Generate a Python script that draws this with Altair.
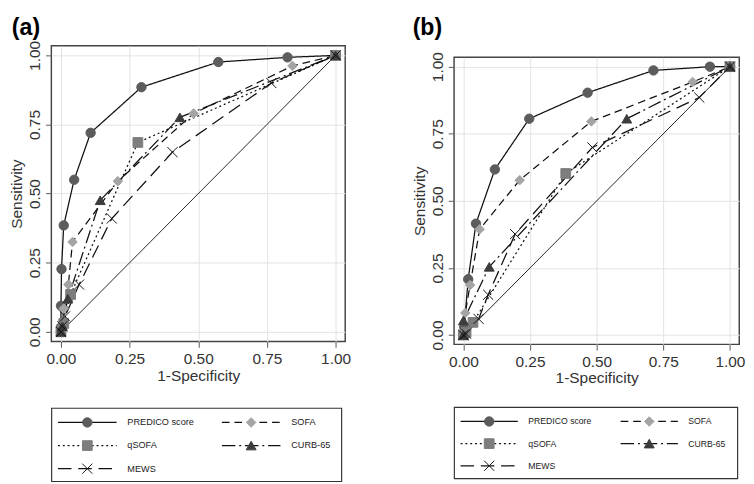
import altair as alt
import pandas as pd

series = ["PREDICO score", "SOFA", "qSOFA", "CURB-65", "MEWS"]

# ---- Panel (a) ROC points (1-Specificity, Sensitivity)
a_predico_x = [0.0, 0.0, 0.0, 0.002, 0.01, 0.048, 0.108, 0.293, 0.573, 0.825, 1.0]
a_predico_y = [0.0, 0.017, 0.094, 0.227, 0.385, 0.55, 0.72, 0.885, 0.976, 0.993, 1.0]
a_sofa_x = [0.0, 0.005, 0.01, 0.027, 0.042, 0.207, 0.483, 0.843, 1.0]
a_sofa_y = [0.0, 0.02, 0.084, 0.171, 0.325, 0.545, 0.79, 0.962, 1.0]
a_qsofa_x = [0.0, 0.01, 0.035, 0.28, 1.0]
a_qsofa_y = [0.0, 0.03, 0.135, 0.685, 1.0]
a_curb_x = [0.0, 0.005, 0.025, 0.143, 0.433, 1.0]
a_curb_y = [0.0, 0.02, 0.12, 0.476, 0.776, 1.0]
a_mews_x = [0.0, 0.005, 0.015, 0.066, 0.185, 0.406, 0.766, 1.0]
a_mews_y = [0.0, 0.02, 0.056, 0.171, 0.41, 0.65, 0.9, 1.0]

# ---- Panel (b)
b_predico_x = [0.0, 0.003, 0.018, 0.047, 0.118, 0.247, 0.466, 0.713, 0.925, 1.0]
b_predico_y = [0.0, 0.03, 0.208, 0.415, 0.617, 0.806, 0.903, 0.986, 1.0, 1.0]
b_sofa_x = [0.0, 0.007, 0.025, 0.061, 0.211, 0.48, 0.86, 1.0]
b_sofa_y = [0.0, 0.082, 0.186, 0.394, 0.577, 0.796, 0.943, 1.0]
b_qsofa_x = [0.0, 0.01, 0.036, 0.384, 1.0]
b_qsofa_y = [0.0, 0.01, 0.047, 0.602, 1.0]
b_curb_x = [0.0, 0.0, 0.097, 0.613, 1.0]
b_curb_y = [0.0, 0.054, 0.254, 0.806, 1.0]
b_mews_x = [0.0, 0.01, 0.057, 0.093, 0.194, 0.484, 0.885, 1.0]
b_mews_y = [0.0, 0.005, 0.06, 0.15, 0.376, 0.699, 0.885, 1.0]

diag = [0.0, 1.0]
tick_values = [0, 0.25, 0.5, 0.75, 1]
panel_labels = ["(a)", "(b)"]

panel_a = {
    "PREDICO score": (a_predico_x, a_predico_y),
    "SOFA": (a_sofa_x, a_sofa_y),
    "qSOFA": (a_qsofa_x, a_qsofa_y),
    "CURB-65": (a_curb_x, a_curb_y),
    "MEWS": (a_mews_x, a_mews_y),
}
panel_b = {
    "PREDICO score": (b_predico_x, b_predico_y),
    "SOFA": (b_sofa_x, b_sofa_y),
    "qSOFA": (b_qsofa_x, b_qsofa_y),
    "CURB-65": (b_curb_x, b_curb_y),
    "MEWS": (b_mews_x, b_mews_y),
}

FONT = "Liberation Sans"
shape_range = ["circle", "diamond", "square", "triangle-up", "M-1,-1L1,1M-1,1L1,-1"]
fill_range = ["#5c5c5c", "#a4a4a4", "#7d7d7d", "#3c3c3c", "#111111"]
dash_range = [[1, 0], [8, 5], [2, 3], [14, 4, 2, 4], [14, 7]]
size_range = [95, 110, 80, 90, 18]
sw_range = [1, 1, 1, 1, 1.3]

shape_scale = alt.Scale(domain=series, range=shape_range)
fill_scale = alt.Scale(domain=series, range=fill_range)
dash_scale = alt.Scale(domain=series, range=dash_range)
size_scale = alt.Scale(domain=series, range=size_range)
sw_scale = alt.Scale(domain=series, range=sw_range)


def roc_frame(panel):
    rows = []
    for s in series:
        xs, ys = panel[s]
        for k, (x, y) in enumerate(zip(xs, ys)):
            rows.append({"series": s, "k": k, "fpr": x, "tpr": y})
    return pd.DataFrame(rows)


def marker_encodings():
    return dict(
        shape=alt.Shape("series:N", scale=shape_scale, legend=None),
        fill=alt.Fill("series:N", scale=fill_scale, legend=None),
        stroke=alt.Stroke("series:N", scale=fill_scale, legend=None),
        size=alt.Size("series:N", scale=size_scale, legend=None),
        strokeWidth=alt.StrokeWidth("series:N", scale=sw_scale, legend=None),
    )


def title_chart(label, w, dx):
    df = pd.DataFrame({"label": [label]})
    return alt.Chart(df).mark_text(
        align="left", baseline="top", fontSize=24, font=FONT, fontWeight="bold", color="#000"
    ).encode(
        x=alt.value(dx), y=alt.value(0), text="label:N"
    ).properties(width=w, height=24, view=alt.ViewBackground(stroke=None))


def roc_chart(panel, w, h):
    df = roc_frame(panel)
    dom = alt.Scale(domain=[-0.035, 1.035], nice=False, zero=False)
    common = dict(values=tick_values, format=".2f", grid=True, gridColor="#e2e2e2",
                  domain=False, tickSize=6, tickColor="#555", labelFontSize=16,
                  titleFontSize=16, labelFont=FONT, titleFont=FONT, labelColor="#333",
                  titleColor="#333", titleFontWeight="normal")
    xenc = alt.X("fpr:Q", scale=dom,
                 axis=alt.Axis(title="1-Specificity", labelPadding=4, titlePadding=1, **common))
    yenc = alt.Y("tpr:Q", scale=dom,
                 axis=alt.Axis(title="Sensitivity", labelPadding=3, titlePadding=3,
                               labelAngle=270, labelAlign="center", labelBaseline="bottom",
                               **common))
    base = alt.Chart(df)
    diag_df = pd.DataFrame({"fpr": diag, "tpr": diag})
    diag_line = alt.Chart(diag_df).mark_line(color="#222", strokeWidth=1).encode(x=xenc, y=yenc)
    lines = base.mark_line(color="#111", strokeWidth=1.3).encode(
        x=xenc, y=yenc,
        detail="series:N",
        order="k:Q",
        strokeDash=alt.StrokeDash("series:N", scale=dash_scale, legend=None),
    )
    pts = base.mark_point(filled=True, opacity=1).encode(
        x=xenc, y=yenc, **marker_encodings()
    )
    return alt.layer(diag_line, lines, pts).properties(
        width=w, height=h,
        view=alt.ViewBackground(stroke="#444", strokeWidth=1.5),
    )


def legend_chart(w, h, font_size):
    leg = pd.DataFrame({"series": series, "i": list(range(len(series)))})
    leg["col"] = leg["i"] % 2
    leg["row"] = leg["i"] // 2
    leg["x0"] = 0.023 + 0.565 * leg["col"]
    leg["x1"] = 0.225 + 0.565 * leg["col"]
    leg["xm"] = 0.124 + 0.565 * leg["col"]
    leg["xt"] = 0.262 + 0.565 * leg["col"]
    xs = alt.Scale(domain=[0, 1], nice=False, zero=False)
    ys = alt.Scale(type="point", range=[15, h - 13], padding=0)
    base = alt.Chart(leg)
    rules = base.mark_rule(color="#111", strokeWidth=1.3).encode(
        x=alt.X("x0:Q", scale=xs, axis=None), x2="x1:Q",
        y=alt.Y("row:O", scale=ys, axis=None),
        strokeDash=alt.StrokeDash("series:N", scale=dash_scale, legend=None),
    )
    pts = base.mark_point(filled=True, opacity=1).encode(
        x=alt.X("xm:Q", scale=xs, axis=None),
        y=alt.Y("row:O", scale=ys, axis=None),
        **marker_encodings()
    )
    txt = base.mark_text(align="left", baseline="middle", fontSize=font_size, font=FONT,
                         color="#222").encode(
        x=alt.X("xt:Q", scale=xs, axis=None),
        y=alt.Y("row:O", scale=ys, axis=None),
        text="series:N",
    )
    return alt.layer(rules, pts, txt).properties(
        width=w, height=h,
        view=alt.ViewBackground(stroke="#333", strokeWidth=1.2),
    )


left = alt.vconcat(
    alt.vconcat(title_chart(panel_labels[0], 305, -41), roc_chart(panel_a, 305, 307), spacing=-1),
    legend_chart(301, 76, 9.5),
    spacing=24,
)
right = alt.vconcat(
    alt.vconcat(title_chart(panel_labels[1], 296, -43), roc_chart(panel_b, 296, 298), spacing=11),
    legend_chart(294, 74, 9),
    spacing=20,
)

chart = alt.concat(left, right, columns=2, align="none", spacing=61).properties(
    padding=0
).configure_view(stroke="#444")

chart.save("out.html", embed_options={"renderer": "svg", "actions": False})
